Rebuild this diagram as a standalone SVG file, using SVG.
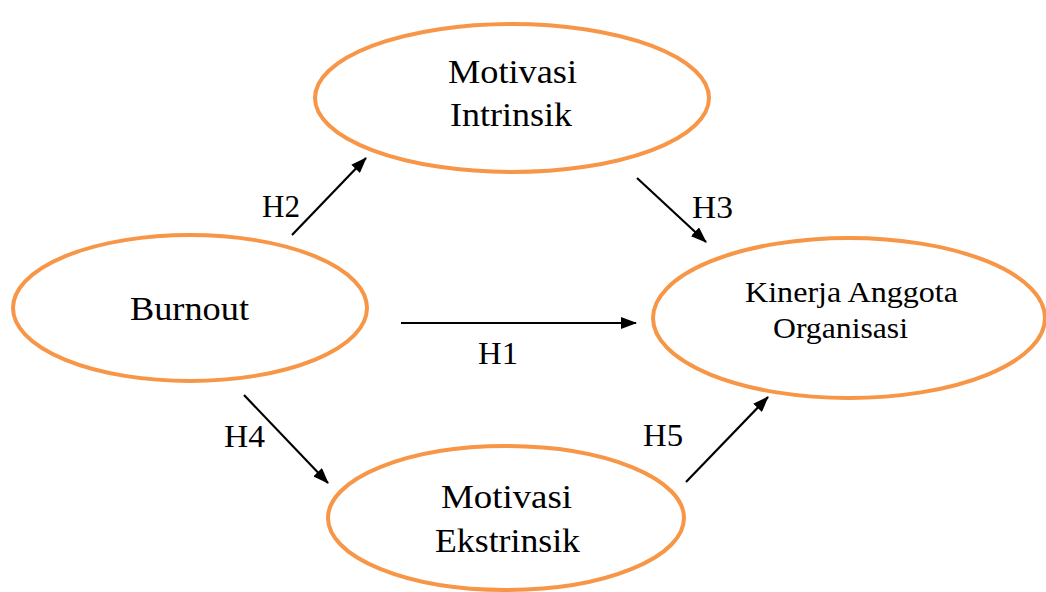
<svg xmlns="http://www.w3.org/2000/svg" width="1046" height="592" viewBox="0 0 1046 592" font-family="'Liberation Serif', 'Times New Roman', Times, serif">
<style>
.node ellipse{fill:#fff;stroke:#F79646;stroke-width:4}
text{fill:#000;font-size:33px}
.mid{font-size:30px}
.lbl{font-size:31px}
.conn line{stroke:#000;stroke-width:2.2;marker-end:url(#ah)}
</style>
<defs>
<marker id="ah" markerWidth="16" markerHeight="12" refX="15" refY="6" orient="auto" markerUnits="userSpaceOnUse">
<path d="M0,0 L16,6 L0,12 Z" fill="#000"/>
</marker>
</defs>
<rect width="1046" height="592" fill="#fff"/>
<g id="intrinsik" class="node">
<ellipse cx="512" cy="98" rx="197" ry="74"/>
<text x="448" y="83" textLength="129" lengthAdjust="spacingAndGlyphs">Motivasi</text>
<text x="450" y="126" textLength="122" lengthAdjust="spacingAndGlyphs">Intrinsik</text>
</g>
<g id="burnout" class="node">
<ellipse cx="190" cy="308" rx="177" ry="73"/>
<text x="130" y="320" textLength="119" lengthAdjust="spacingAndGlyphs">Burnout</text>
</g>
<g id="kinerja" class="node">
<ellipse cx="849" cy="318" rx="196" ry="80"/>
<text class="mid" x="745" y="302" textLength="213" lengthAdjust="spacingAndGlyphs">Kinerja Anggota</text>
<text class="mid" x="773" y="338" textLength="135" lengthAdjust="spacingAndGlyphs">Organisasi</text>
</g>
<g id="ekstrinsik" class="node">
<ellipse cx="506" cy="518" rx="178" ry="72"/>
<text x="441" y="508" textLength="131" lengthAdjust="spacingAndGlyphs">Motivasi</text>
<text x="435" y="552" textLength="145" lengthAdjust="spacingAndGlyphs">Ekstrinsik</text>
</g>
<g id="connectors" class="conn">
<line x1="292" y1="235" x2="366" y2="158"/>
<line x1="637" y1="178" x2="706" y2="242"/>
<line x1="401" y1="323" x2="636" y2="323"/>
<line x1="244" y1="395" x2="328" y2="483"/>
<line x1="686" y1="482" x2="768" y2="397"/>
<text class="lbl" x="262" y="217" textLength="38" lengthAdjust="spacingAndGlyphs">H2</text>
<text class="lbl" x="692" y="218" textLength="41" lengthAdjust="spacingAndGlyphs">H3</text>
<text class="lbl" x="478" y="364" textLength="40" lengthAdjust="spacingAndGlyphs">H1</text>
<text class="lbl" x="224" y="447" textLength="41" lengthAdjust="spacingAndGlyphs">H4</text>
<text class="lbl" x="643" y="446" textLength="40" lengthAdjust="spacingAndGlyphs">H5</text>
</g>
</svg>
